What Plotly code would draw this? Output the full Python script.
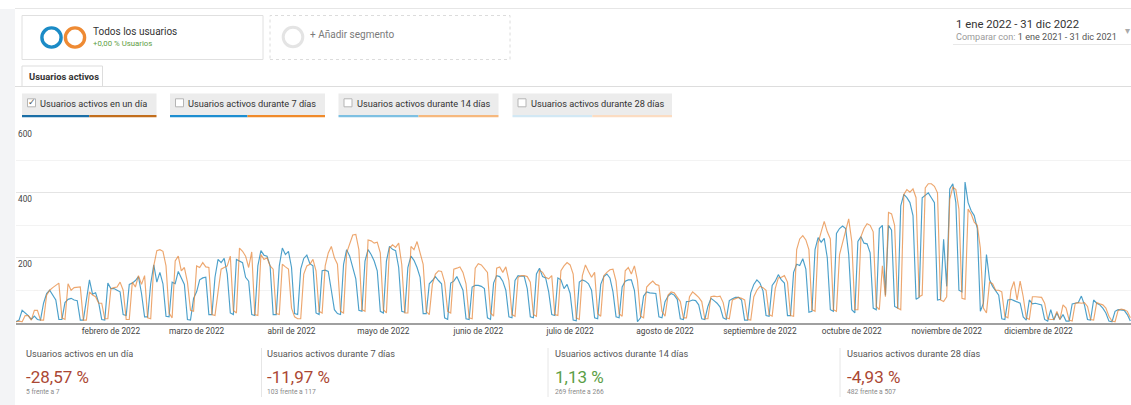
import plotly.graph_objects as go
import pandas as pd

W, H = 1131, 405

# ---------------- data ----------------
dates = pd.date_range("2022-01-01", "2022-12-31", freq="D")

# Usuarios activos en un día, 2022 (Sat 1 Jan, Sun 2 Jan, then Mon..Sun weeks)
usuarios_2022 = [
    3, 8,
    38, 30, 22, 10, 20, 10, 8,
    60, 90, 100, 85, 70, 10, 10,
    62, 72, 75, 70, 68, 8, 8,
    70, 132, 88, 92, 62, 10, 8,
    122, 105, 105, 100, 95, 25, 22,
    118, 122, 130, 142, 90, 18, 18,
    120, 178, 125, 155, 120, 20, 18,
    125, 120, 158, 138, 118, 10, 8,
    75, 95, 132, 138, 140, 25, 25,
    140, 195, 185, 198, 150, 30, 25,
    195, 190, 185, 140, 128, 25, 22,
    175, 222, 208, 205, 175, 25, 25,
    175, 230, 210, 220, 170, 28, 25,
    165, 198, 208, 182, 175, 30, 25,
    160, 162, 158, 100, 40, 28, 25,
    180, 225, 205, 172, 135, 38, 35,
    190, 225, 210, 190, 160, 35, 30,
    190, 235, 226, 222, 170, 35, 32,
    170, 205, 192, 170, 140, 28, 28,
    120, 130, 142, 130, 120, 15, 10,
    122, 128, 142, 122, 100, 12, 10,
    110, 115, 115, 112, 105, 15, 10,
    122, 145, 142, 128, 100, 18, 15,
    130, 145, 143, 143, 105, 18, 15,
    150, 168, 142, 138, 95, 25, 22,
    138, 132, 105, 118, 90, 8, 6,
    125, 132, 128, 120, 100, 15, 12,
    118, 142, 150, 138, 95, 18, 15,
    110, 128, 132, 132, 100, 3, 15,
    82, 95, 92, 92, 90, 18, 15,
    65, 82, 90, 85, 72, 12, 10,
    65, 66, 70, 68, 55, 12, 10,
    50, 75, 68, 60, 48, 15, 10,
    68, 74, 78, 78, 70, 8, 8,
    92, 118, 132, 122, 98, 22, 20,
    115, 128, 148, 132, 122, 22, 22,
    155, 180, 176, 197, 165, 32, 35,
    225, 262, 248, 260, 200, 40, 35,
    275, 290, 298, 290, 210, 40, 30,
    250, 265, 245, 243, 215, 45, 40,
    290, 300, 85, 300, 285, 50, 45,
    360, 395, 385, 370, 330, 72, 78,
    385, 392, 400, 385, 370, 70, 72,
    257, 112, 412, 428, 370, 100, 95,
    433, 370, 345, 330, 290, 35, 60,
    210, 132, 112, 100, 85, 12, 10,
    70, 72, 68, 65, 60, 18, 8,
    70, 58, 60, 58, 55, 10, 5,
    40, 8, 30, 10, 25, 5, 5,
    58, 60, 62, 82, 55, 10, 8,
    70, 60, 55, 45, 30, 5, 3,
    35, 40, 40, 38, 25, 5,
]

# Same metric, comparison period 2021 (Fri 1 Jan, Sat, Sun, then Mon..Sun weeks)
usuarios_2021 = [
    3, 5, 3,
    22, 22, 8, 38, 38, 8, 8,
    85, 100, 108, 115, 122, 15, 10,
    120, 100, 108, 110, 110, 8, 8,
    95, 85, 80, 60, 60, 12, 12,
    105, 108, 110, 125, 100, 10, 10,
    125, 110, 145, 118, 145, 15, 12,
    175, 222, 225, 220, 175, 30, 15,
    190, 205, 160, 170, 125, 38, 35,
    175, 170, 185, 172, 170, 25, 22,
    95, 165, 170, 175, 205, 38, 30,
    230, 220, 205, 170, 218, 25, 22,
    210, 195, 200, 175, 165, 28, 25,
    180, 172, 165, 45, 18, 12, 12,
    150, 175, 180, 195, 160, 35, 30,
    175, 215, 235, 200, 180, 35, 30,
    215, 245, 270, 272, 225, 40, 35,
    255, 252, 245, 248, 215, 40, 30,
    230, 240, 232, 245, 180, 30, 30,
    235, 225, 250, 210, 180, 35, 25,
    118, 150, 160, 158, 125, 35, 30,
    165, 168, 172, 155, 120, 15, 12,
    168, 182, 178, 168, 155, 30, 20,
    168, 172, 155, 172, 130, 25, 20,
    140, 145, 145, 142, 125, 25, 20,
    162, 155, 140, 135, 145, 25, 22,
    160, 175, 185, 178, 150, 15, 10,
    145, 178, 158, 140, 155, 28, 20,
    145, 155, 163, 165, 128, 28, 20,
    160, 170, 150, 175, 130, 20, 15,
    110, 120, 128, 118, 115, 35, 20,
    85, 95, 92, 80, 65, 15, 15,
    80, 95, 87, 78, 65, 12, 12,
    80, 82, 80, 82, 62, 15, 12,
    70, 75, 78, 75, 70, 10, 8,
    80, 100, 112, 108, 100, 25, 20,
    105, 138, 140, 145, 125, 22, 20,
    225, 258, 268, 255, 225, 40, 35,
    245, 280, 312, 280, 258, 40, 35,
    210, 248, 280, 320, 250, 40, 40,
    265, 290, 305, 300, 280, 50, 40,
    175, 80, 340, 335, 300, 45, 40,
    395, 410, 402, 412, 385, 80, 85,
    415, 428, 428, 420, 400, 70, 65,
    80, 380, 418, 410, 350, 75, 72,
    350, 335, 310, 300, 230, 45, 30,
    125, 120, 100, 100, 95, 20, 15,
    100, 127, 70, 128, 80, 15, 10,
    80, 80, 78, 78, 60, 12, 10,
    10, 35, 10, 55, 45, 8, 5,
    60, 62, 60, 62, 50, 10, 8,
    62, 58, 55, 45, 20, 5, 3,
    38, 42, 40, 35, 15,
]

assert len(usuarios_2022) == 365, len(usuarios_2022)
assert len(usuarios_2021) == 365, len(usuarios_2021)

month_ticks = list(pd.date_range("2022-02-01", "2022-12-01", freq="MS"))
month_labels = ["febrero de 2022", "marzo de 2022", "abril de 2022", "mayo de 2022",
                "junio de 2022", "julio de 2022", "agosto de 2022", "septiembre de 2022",
                "octubre de 2022", "noviembre de 2022", "diciembre de 2022"]
y_labels = [200, 400, 600]

metric_buttons = ["Usuarios activos en un día", "Usuarios activos durante 7 días",
                  "Usuarios activos durante 14 días", "Usuarios activos durante 28 días"]
kpi_titles = metric_buttons
kpi_changes = ["-28,57 %", "-11,97 %", "1,13 %", "-4,93 %"]
kpi_details = ["5 frente a 7", "103 frente a 117", "269 frente a 266", "482 frente a 507"]

# ---------------- helpers ----------------
FONT = "Roboto"


def px(x):
    return x / W


def py(y):
    return 1 - y / H


def rect(x0, y0, x1, y1, fill="rgba(0,0,0,0)", line="rgba(0,0,0,0)", lw=1, dash="solid"):
    return dict(type="rect", xref="paper", yref="paper", x0=px(x0), x1=px(x1),
                y0=py(y1), y1=py(y0), fillcolor=fill, line=dict(color=line, width=lw, dash=dash),
                layer="below")


def hline(x0, x1, y, color, lw=1):
    return dict(type="line", xref="paper", yref="paper", x0=px(x0), x1=px(x1),
                y0=py(y), y1=py(y), line=dict(color=color, width=lw))


def vline(x, y0, y1, color, lw=1):
    return dict(type="line", xref="paper", yref="paper", x0=px(x), x1=px(x),
                y0=py(y0), y1=py(y1), line=dict(color=color, width=lw))


def ring(cx, cy, r, color, lw):
    return dict(type="circle", xref="paper", yref="paper", x0=px(cx - r), x1=px(cx + r),
                y0=py(cy + r), y1=py(cy - r), line=dict(color=color, width=lw),
                fillcolor="rgba(0,0,0,0)")


def txt(x, y, s, size, color, anchor="left"):
    # annotations carry ~2px inner padding; compensate for left-anchored text
    xx = x - 2 if anchor == "left" else x
    return dict(x=px(xx), y=py(y), xref="paper", yref="paper", text=s, showarrow=False,
                xanchor=anchor, yanchor="middle", font=dict(family=FONT, size=size, color=color))


# ---------------- figure ----------------
fig = go.Figure()
fig.add_trace(go.Scatter(x=dates, y=usuarios_2022, mode="lines", name="2022",
                         line=dict(color="rgba(20,130,185,0.76)", width=1.15)))
fig.add_trace(go.Scatter(x=dates, y=usuarios_2021, mode="lines", name="2021",
                         line=dict(color="rgba(230,130,50,0.70)", width=1.15)))

shapes = []
annotations = []

# page frame
shapes.append(rect(0, 9, 15, 405, fill="#f3f4f6"))
shapes.append(hline(15, 1131, 8.5, "#e6e6e6"))

# segment boxes
shapes.append(rect(22, 15.5, 263, 59.5, fill="white", line="#e0e0e0"))
shapes.append(rect(270, 15.5, 510, 59.5, fill="white", line="#dcdcdc", dash="dot"))
shapes.append(ring(51.5, 37.5, 9.6, "#1b8bc6", 3.4))
shapes.append(ring(75, 37.5, 9.6, "#ee8a33", 3.4))
shapes.append(ring(293, 37, 9.8, "#e4e4e4", 3))
annotations.append(txt(93, 31.5, "Todos los usuarios", 10, "#333"))
annotations.append(txt(93, 43.3, "+0,00 % Usuarios", 7.8, "#5e9e44"))
annotations.append(txt(310, 35, "+ Añadir segmento", 10, "#7a7a7a"))

# date range
annotations.append(txt(956, 24.5, "1 ene 2022 - 31 dic 2022", 11.3, "#333"))
annotations.append(txt(956, 37, "<span style=\"color:#9a9a9a\">Comparar con:</span> "
                                "<span style=\"color:#555\">1 ene 2021 - 31 dic 2021</span>",
                       9.1, "#555"))
annotations.append(txt(1127, 30, "▾", 10, "#aaa", anchor="center"))
shapes.append(hline(953, 1131, 44.5, "#e8e8e8"))

# tab
shapes.append(hline(15, 1131, 86.5, "#dddddd"))
shapes.append(rect(22, 66, 102.5, 86.5, fill="white", line="#dddddd"))
annotations.append(txt(28.5, 76.5, "<b>Usuarios activos</b>", 9.4, "#333"))

# metric buttons
btns = [(22, 156.5), (170, 325), (338.5, 498.5), (512.5, 672)]
bar_cols = [("#1a6ea6", "#c26e1c"), ("#1d8ed0", "#f08a2a"),
            ("#7dc0e2", "#f6b87d"), ("#d2e8f4", "#fbdcc2")]
for (x0, x1), (cb, co), label in zip(btns, bar_cols, metric_buttons):
    shapes.append(rect(x0, 93.5, x1, 115, fill="#ececec"))
    xm = (x0 + x1) / 2
    shapes.append(rect(x0, 115, xm, 117.3, fill=cb))
    shapes.append(rect(xm, 115, x1, 117.3, fill=co))
    shapes.append(rect(x0 + 5.5, 98.8, x0 + 13.5, 106.8, fill="white", line="#b5b5b5"))
    annotations.append(txt(x0 + 18, 103, label, 9.2, "#333"))
annotations.append(dict(x=px(31.5), y=py(102.3), xref="paper", yref="paper", text="✓",
                        showarrow=False, xanchor="center", yanchor="middle",
                        font=dict(family="DejaVu Sans", size=9, color="#555")))

# y labels inside plot
for v in y_labels:
    annotations.append(dict(x=px(15.5), y=v, xref="paper", yref="y", text=str(v),
                            showarrow=False, xanchor="left", yanchor="top", yshift=1,
                            font=dict(family=FONT, size=8.3, color="#444")))

# KPI row
kpi_x = [26, 267, 555, 847]
sep_x = [261.5, 548, 840]
for sx in sep_x:
    shapes.append(vline(sx, 348, 397, "#e6e6e6"))
for x, t, c, d in zip(kpi_x, kpi_titles, kpi_changes, kpi_details):
    col = "#5b9e45" if not c.startswith("-") else "#ab4733"
    annotations.append(txt(x, 353.5, t, 9.2, "#555"))
    annotations.append(txt(x - 0.5, 377, c, 17, col))
    annotations.append(txt(x, 391.5, d, 6.7, "#8a8a8a"))

# ---------------- layout ----------------
y_bottom_px, y_top_px = 322.7, 127.6
fig.update_layout(
    width=W, height=H,
    margin=dict(l=0, r=0, t=0, b=0),
    paper_bgcolor="white", plot_bgcolor="white",
    showlegend=False,
    shapes=shapes,
    annotations=annotations,
    font=dict(family=FONT),
    xaxis=dict(
        domain=[px(16), 1],
        range=["2022-01-01", "2022-12-31 05:00"],
        tickvals=month_ticks, ticktext=month_labels,
        tickfont=dict(family=FONT, size=8.3, color="#444"),
        ticks="", showgrid=False, zeroline=False,
        showline=True, linecolor="#a0a0a0", linewidth=1.5,
        fixedrange=True,
    ),
    yaxis=dict(
        domain=[py(y_bottom_px), py(y_top_px)],
        range=[0, 601],
        tickvals=[200, 400, 600],
        showticklabels=False, ticks="",
        showgrid=True, gridcolor="#e4e4e4", gridwidth=1,
        minor=dict(tickvals=[100, 300, 500], showgrid=True, gridcolor="#f3f3f3", gridwidth=1),
        zeroline=False, showline=False,
        fixedrange=True,
    ),
)

fig.write_html(
    "out.html",
    config={"displayModeBar": False},
    post_script="document.body.style.margin='0px';document.body.style.padding='0px';"
                "document.body.style.overflow='hidden';",
)
